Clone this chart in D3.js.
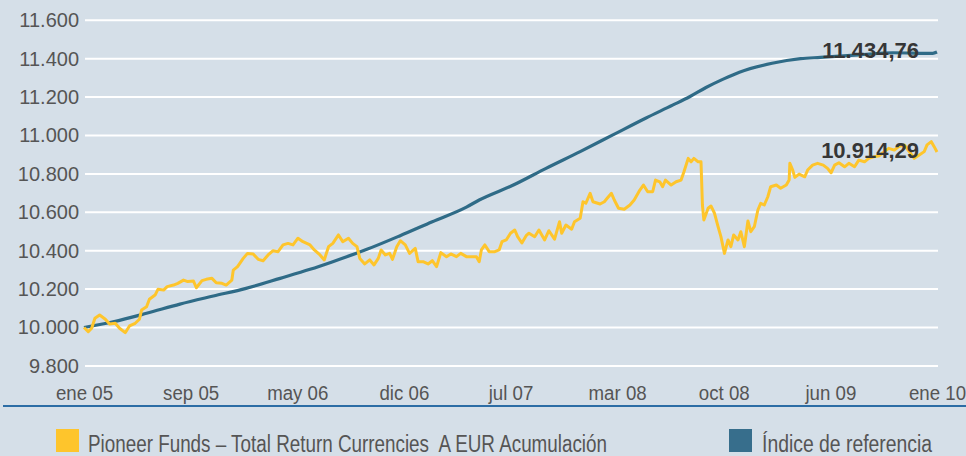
<!DOCTYPE html>
<html>
<head>
<meta charset="utf-8">
<script src="https://cdn.jsdelivr.net/npm/d3@7"></script>
<style>
  html, body { margin: 0; padding: 0; background: #d5dfe8; }
  svg { display: block; }
  text { font-family: "Liberation Sans", Arial, sans-serif; }
</style>
</head>
<body>
<svg id="chart" width="966" height="456"></svg>
<script>
// Months elapsed since January 2005
const xTickMonths = [0, 7.5, 15, 22.5, 30, 37.5, 45, 52.5, 60];
const xTickLabels = ["ene 05", "sep 05", "may 06", "dic 06", "jul 07", "mar 08", "oct 08", "jun 09", "ene 10"];
const yTicks = [9800, 10000, 10200, 10400, 10600, 10800, 11000, 11200, 11400, 11600];

const seriesNames = ["Pioneer Funds \u2013 Total Return Currencies  A EUR Acumulaci\u00f3n", "\u00cdndice de referencia"];
const seriesColors = ["#fec52c", "#2f6b87"];

// Fund: value of 10.000 invested
const fundMonths = [0, 0.3, 0.54, 0.77, 1.1, 1.5, 1.8, 2.2, 2.5, 2.9, 3.2, 3.6, 3.9, 4.05, 4.4, 4.6, 5.0, 5.2, 5.6, 5.85,
  6.3, 6.6, 7.0, 7.3, 7.7, 7.9, 8.3, 8.6, 9.0, 9.3, 9.7, 10.0, 10.4, 10.5, 10.8, 11.2, 11.5, 11.9, 12.25, 12.6,
  12.95, 13.3, 13.65, 14.0, 14.35, 14.7, 15.05, 15.4, 15.9, 16.2, 16.6, 16.9, 17.2, 17.5, 17.9, 18.2, 18.6, 18.9, 19.2, 19.4,
  19.75, 20.1, 20.4, 20.7, 20.9, 21.2, 21.5, 21.7, 22.0, 22.25, 22.6, 22.9, 23.3, 23.5, 23.85, 24.2, 24.5, 24.8, 25.1, 25.5,
  25.8, 26.2, 26.5, 26.9, 27.2, 27.6, 27.8, 27.95, 28.2, 28.5, 28.9, 29.2, 29.4, 29.7, 30.0, 30.3, 30.5, 30.8, 31.1, 31.3,
  31.7, 32.0, 32.4, 32.7, 33.1, 33.45, 33.6, 33.9, 34.3, 34.5, 34.9, 35.1, 35.3, 35.6, 35.8, 36.3, 36.6, 36.8, 37.1, 37.3,
  37.6, 38.0, 38.4, 38.7, 39.1, 39.35, 39.65, 40.0, 40.2, 40.5, 40.7, 40.9, 41.3, 41.65, 42.0, 42.2, 42.5, 42.7, 42.9, 43.2,
  43.4, 43.5, 43.6, 43.9, 44.1, 44.35, 44.6, 44.8, 45.05, 45.3, 45.5, 45.7, 46.0, 46.2, 46.45, 46.7, 46.9, 47.15, 47.4, 47.6,
  47.85, 48.1, 48.3, 48.7, 49.0, 49.4, 49.6, 49.65, 49.85, 50.0, 50.3, 50.7, 50.9, 51.25, 51.6, 52.0, 52.3, 52.55, 52.8, 53.1,
  53.5, 53.8, 54.2, 54.5, 54.9, 55.2, 55.6, 55.9, 56.3, 56.6, 57.0, 57.3, 57.7, 58.05, 58.4, 58.75, 59.1, 59.3, 59.6, 59.8, 60];
const fundValues = [10000, 9978, 9996, 10048, 10065, 10043, 10018, 10022, 9996, 9973, 10008, 10022, 10043, 10091, 10108, 10147, 10169, 10199, 10195, 10213,
  10221, 10230, 10247, 10239, 10242, 10207, 10244, 10251, 10256, 10233, 10230, 10221, 10247, 10299, 10317, 10360, 10386, 10383, 10355, 10348,
  10378, 10400, 10395, 10430, 10438, 10430, 10465, 10447, 10430, 10404, 10378, 10352, 10421, 10438, 10482, 10447, 10465, 10438, 10421, 10360,
  10331, 10352, 10326, 10360, 10404, 10378, 10386, 10355, 10421, 10452, 10430, 10386, 10412, 10343, 10343, 10331, 10348, 10317, 10390, 10369,
  10383, 10369, 10386, 10369, 10369, 10369, 10343, 10404, 10430, 10395, 10395, 10404, 10447, 10456, 10491, 10508, 10473, 10440, 10478, 10491,
  10473, 10508, 10456, 10504, 10460, 10551, 10491, 10534, 10512, 10551, 10569, 10655, 10647, 10699, 10655, 10643, 10655, 10673, 10699, 10664,
  10621, 10616, 10638, 10664, 10716, 10742, 10707, 10707, 10768, 10759, 10733, 10768, 10742, 10759, 10768, 10811, 10881, 10863, 10881, 10863,
  10863, 10638, 10560, 10621, 10633, 10595, 10525, 10473, 10386, 10456, 10421, 10482, 10456, 10499, 10421, 10555, 10499, 10525, 10612, 10647,
  10638, 10681, 10733, 10742, 10725, 10742, 10768, 10855, 10820, 10782, 10799, 10785, 10820, 10846, 10855, 10846, 10829, 10806, 10846, 10858,
  10837, 10855, 10837, 10872, 10863, 10881, 10890, 10893, 10916, 10933, 10924, 10942, 10951, 10916, 10881, 10898, 10916, 10951, 10968, 10942, 10914.29];

// Benchmark index
const indexMonths = [0, 2.06, 4.4, 6.75, 9.1, 11.4, 13.8, 15.9, 17.5, 19.9, 22.2, 24.5, 26.9, 27.8, 30.2, 32.5, 34.9, 37.2, 39.5, 41.4,
  42.6, 43.75, 45, 46.1, 48.4, 50.4, 51.8, 54.5, 56.9, 59.7, 60];
const indexValues = [10000, 10030, 10074, 10122, 10164, 10204, 10256, 10303, 10343, 10407, 10477, 10551, 10627, 10664, 10742, 10829, 10916, 11003, 11090, 11158,
  11202, 11250, 11295, 11330, 11376, 11400, 11407, 11420, 11431, 11428, 11434.76];

const es = d3.formatLocale({ decimal: ",", thousands: ".", grouping: [3], currency: ["", " \u20ac"] });
const fmtTick = es.format(",.0f");
const fmtValue = es.format(",.2f");

const svg = d3.select("#chart");
const W = 966;

const x = d3.scaleLinear().domain([0, 60]).range([84, 937]);
const y = d3.scaleLinear().domain([9800, 11600]).range([365.9, 20.3]);

// horizontal grid
svg.append("g").selectAll("line").data(yTicks).join("line")
  .attr("x1", 85).attr("x2", 938)
  .attr("y1", d => y(d)).attr("y2", d => y(d))
  .attr("stroke", "#ffffff").attr("stroke-width", 2);

// y axis labels
const yAxis = svg.append("g").attr("transform", `translate(${x(0) + 1},0)`)
  .call(d3.axisLeft(y).tickValues(yTicks).tickFormat(fmtTick).tickSize(0).tickPadding(6));
yAxis.select(".domain").remove();
yAxis.selectAll("text").attr("font-size", 20).attr("fill", "#555555")
  .style("font-family", '"Liberation Sans", Arial, sans-serif');

// x axis labels
const xAxis = svg.append("g").attr("transform", `translate(0,${y(9800)})`)
  .call(d3.axisBottom(x).tickValues(xTickMonths).tickFormat((d, i) => xTickLabels[i]).tickSize(0));
xAxis.select(".domain").remove();
xAxis.selectAll("text")
  .attr("y", 34).attr("dy", 0)
  .attr("font-size", 21).attr("fill", "#555555")
  .attr("transform", "scale(0.89,1)")
  .style("font-family", '"Liberation Sans", Arial, sans-serif');

// lines
const line = d3.line().x(d => x(d[0])).y(d => y(d[1]));
const indexData = indexMonths.map((m, i) => [m, indexValues[i]]);
const fundData = fundMonths.map((m, i) => [m, fundValues[i]]);

svg.append("path").datum(indexData)
  .attr("d", line.curve(d3.curveMonotoneX)).attr("fill", "none")
  .attr("stroke", seriesColors[1]).attr("stroke-width", 3.2);
svg.append("path").datum(fundData)
  .attr("d", line.curve(d3.curveLinear)).attr("fill", "none")
  .attr("stroke", seriesColors[0]).attr("stroke-width", 3)
  .attr("stroke-linejoin", "round");

// end value labels
const endLabels = [
  { v: indexValues[indexValues.length - 1] },
  { v: fundValues[fundValues.length - 1] }
];
svg.append("g").selectAll("text").data(endLabels).join("text")
  .attr("x", x(60) - 18)
  .attr("y", d => y(d.v) + 6)
  .attr("text-anchor", "end")
  .attr("font-size", 22).attr("font-weight", "bold")
  .attr("fill", "#363636")
  .text(d => fmtValue(d.v));

// bottom rule
svg.append("line")
  .attr("x1", 3).attr("x2", W)
  .attr("y1", 406).attr("y2", 406)
  .attr("stroke", "#2c6da5").attr("stroke-width", 2);

// legend
const legend = [
  { name: seriesNames[0], color: seriesColors[0], x: 56, w: 519 },
  { name: seriesNames[1], color: "#376e8c", x: 729, w: 170 }
];
const lg = svg.append("g").selectAll("g").data(legend).join("g")
  .attr("transform", d => `translate(${d.x},429)`);
lg.append("rect").attr("width", 23).attr("height", 23).attr("fill", d => d.color);
lg.append("text")
  .attr("x", d => d.name === seriesNames[0] ? 32 : 33)
  .attr("y", 22.5)
  .attr("font-size", 23)
  .attr("fill", "#555555")
  .attr("xml:space", "preserve")
  .style("white-space", "pre")
  .attr("textLength", d => d.w)
  .attr("lengthAdjust", "spacingAndGlyphs")
  .text(d => d.name);
</script>
</body>
</html>
